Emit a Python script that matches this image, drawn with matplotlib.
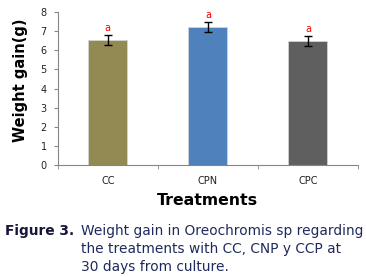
import matplotlib
matplotlib.use("Agg")
import matplotlib.pyplot as plt
import numpy as np

categories = ["CC", "CPN", "CPC"]
values = [6.52, 7.22, 6.47]
errors = [0.26, 0.25, 0.25]
letters = ["a", "a", "a"]
colors = ["#938953", "#4F81BD", "#5F5F5F"]
yticks = [0, 1, 2, 3, 4, 5, 6, 7, 8]

fig = plt.figure(figsize=(3.66, 2.77), dpi=100)
ax = fig.add_axes([0.158, 0.404, 0.82, 0.553])
x = np.arange(len(categories))
ax.bar(x, values, width=0.39, color=colors, edgecolor="#d8d8d8", linewidth=0.5, zorder=2)
ax.errorbar(x, values, yerr=errors, fmt="none", ecolor="black", elinewidth=1, capsize=3, capthick=1, zorder=3)
for xi, v, e, l in zip(x, values, errors, letters):
    ax.text(xi, v + e + 0.12, l, color="red", ha="center", va="bottom", fontsize=7)

ax.set_xlim(-0.5, len(categories) - 0.5)
ax.set_ylim(0, 8)
ax.set_yticks(yticks)
ax.set_xticks(x)
ax.set_xticklabels(categories)
ax.set_xticks(np.arange(-0.5, len(categories), 1.0), minor=True)
for s in ["top", "right"]:
    ax.spines[s].set_visible(False)
for s in ["left", "bottom"]:
    ax.spines[s].set_color("#868686")
    ax.spines[s].set_linewidth(0.8)
ax.tick_params(axis="y", labelsize=7, length=3, color="#868686", pad=5, labelcolor="#222222")
ax.tick_params(axis="x", which="major", length=0, labelsize=7, pad=8, labelcolor="#222222")
ax.tick_params(axis="x", which="minor", length=3, color="#868686")
ax.set_ylabel("Weight gain(g)", fontsize=10.5, fontweight="bold")
ax.yaxis.set_label_coords(-0.10, 0.556)
ax.set_xlabel("Treatments", fontsize=11.3, fontweight="bold", labelpad=5)

navy = "#1f2a5c"
fs = 9.9
fig.text(0.013, 1 - 235 / 277, "Figure 3.", fontsize=fs, fontweight="bold", color="#16163a", va="baseline")
cap = ["Weight gain in Oreochromis sp regarding",
       "the treatments with CC, CNP y CCP at",
       "30 days from culture."]
for i, line in enumerate(cap):
    fig.text(81 / 366, 1 - (235 + 18 * i) / 277, line, fontsize=fs, color=navy, va="baseline")

fig.savefig("out.png", dpi=100)
